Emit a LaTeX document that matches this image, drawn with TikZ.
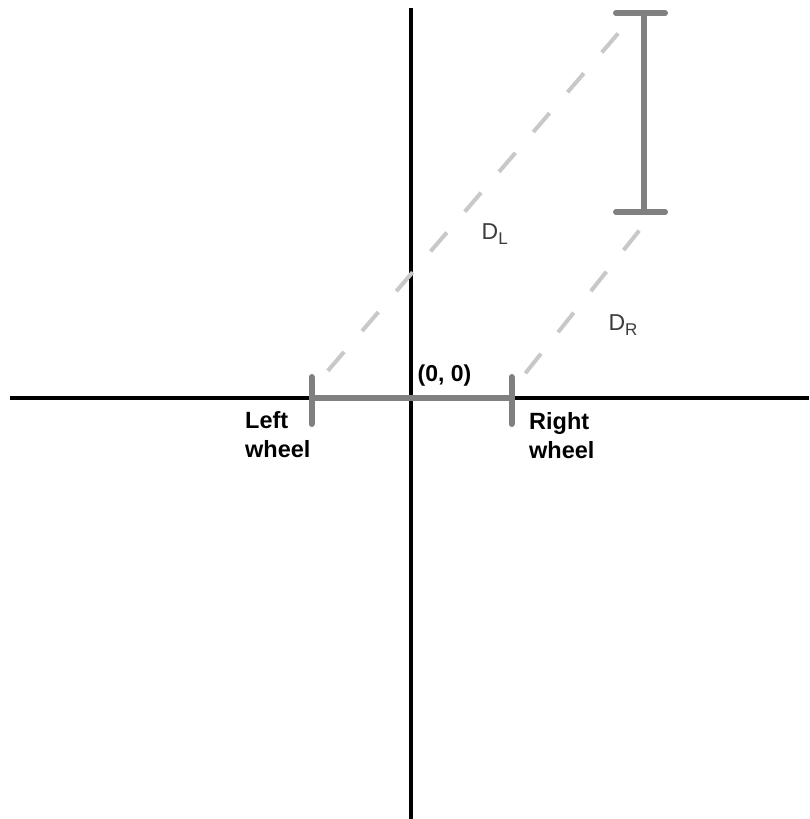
\documentclass[tikz,border=0pt]{standalone}
\usepackage{fontspec}
\setmainfont{Liberation Sans}
\definecolor{barGray}{HTML}{808080}
\definecolor{dashGray}{HTML}{C8C8C8}
\definecolor{labelGray}{HTML}{3C3C3C}
\begin{document}
\begin{tikzpicture}[x=1pt,y=-1pt,
  axis/.style={line width=4pt,black},
  wheelbar/.style={line width=6pt,color=barGray,line cap=round},
  track/.style={line width=4pt,color=dashGray,dash pattern=on 25pt off 27.5pt},
  lbl/.style={font=\fontsize{23.5}{28.5}\selectfont\bfseries,inner sep=0pt,align=left,text=black,anchor=base west},
  dlbl/.style={font=\fontsize{23}{27}\selectfont,inner sep=0pt,text=labelGray,anchor=base west}]
\useasboundingbox[fill=white] (0,0) rectangle (809,819);
% axes
\coordinate (xl) at (10,398);
\coordinate (xr) at (809,398);
\coordinate (yt) at (411,8);
\coordinate (yb) at (411,819);
\draw[axis] (xl) -- (xr);
\draw[axis] (yt) -- (yb);
% tracks
\coordinate (lstart) at (313,388);
\coordinate (lend) at (634,15);
\coordinate (rstart) at (512,390);
\coordinate (rend) at (654,212);
\draw[track,dash phase=29.8pt] (lstart) -- (lend);
\draw[track,dash phase=31.1pt] (rstart) -- (rend);
% axle at origin
\coordinate (lw) at (311.5,398);
\coordinate (rw) at (511.5,398);
\coordinate (lwt) at (311.5,377);
\coordinate (lwb) at (311.5,424);
\coordinate (rwt) at (511.5,377);
\coordinate (rwb) at (511.5,424);
\draw[wheelbar,line cap=butt] (lw) -- (rw);
\draw[wheelbar] (lwt) -- (lwb);
\draw[wheelbar] (rwt) -- (rwb);
% moved axle
\coordinate (mt) at (644,13);
\coordinate (mb) at (644,212);
\coordinate (mtl) at (616,13);
\coordinate (mtr) at (665,13);
\coordinate (mbl) at (616,212);
\coordinate (mbr) at (665,212);
\draw[wheelbar] (mt) -- (mb);
\draw[wheelbar] (mtl) -- (mtr);
\draw[wheelbar] (mbl) -- (mbr);
% labels
\node[lbl] (origin) at (417.5,381.5) {\fontsize{23}{26}\selectfont(0, 0)};
\node[lbl] (leftw) at (245,457) {Left\\wheel};
\node[lbl] (rightw) at (529,458.3) {Right\\wheel};
\node[dlbl] (dl) at (481.5,239.5) {D\raisebox{-4.5pt}{\fontsize{17}{17}\selectfont L}};
\node[dlbl] (dr) at (608.3,330.5) {D\raisebox{-4.5pt}{\fontsize{17}{17}\selectfont R}};
\end{tikzpicture}
\end{document}
